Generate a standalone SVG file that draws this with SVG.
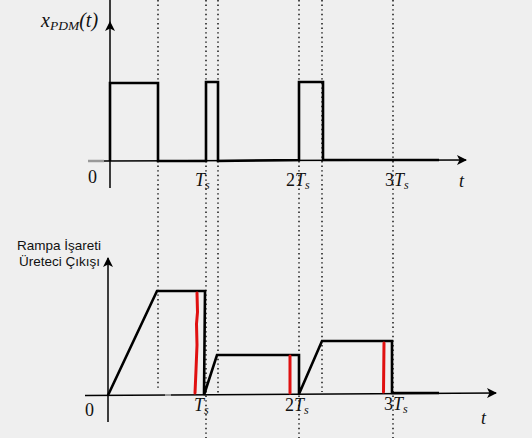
<svg xmlns="http://www.w3.org/2000/svg" width="532" height="438" viewBox="0 0 532 438">
<defs>
<marker id="ah" viewBox="0 0 10 10" refX="9" refY="5" markerWidth="10" markerHeight="10" markerUnits="userSpaceOnUse" orient="auto">
<path d="M0,0 L10,5 L0,10 L2.5,5 Z" fill="#000"/>
</marker>
</defs>
<style>
.bg{fill:#efefef}
.ax{stroke:#000;stroke-width:1.5;fill:none}
.sig{stroke:#000;stroke-width:2.6;fill:none;stroke-linejoin:miter}
.dot{stroke:#222;stroke-width:1.6;stroke-dasharray:1.4 3.2;fill:none}
.red{stroke:#e01010;stroke-width:3;fill:none;stroke-linecap:round}
.m{font-family:"Liberation Serif","DejaVu Serif",serif;font-style:italic;font-size:18px;fill:#111}
.n{font-family:"Liberation Serif","DejaVu Serif",serif;font-size:18px;fill:#111}
.sub{font-family:"Liberation Serif","DejaVu Serif",serif;font-style:italic;font-size:12px;fill:#111}
.lbl{font-family:"Liberation Sans",Arial,sans-serif;font-size:13.5px;fill:#111}
.big{font-size:20px}
.bsub{font-size:13.5px}
</style>
<rect class="bg" x="0" y="0" width="532" height="438"/>
<g id="grid">
<line class="dot" x1="158" y1="0" x2="158" y2="391"/>
<line class="dot" x1="206" y1="0" x2="206" y2="438"/>
<line class="dot" x1="218" y1="0" x2="218" y2="393"/>
<line class="dot" x1="299" y1="0" x2="299" y2="438"/>
<line class="dot" x1="322" y1="0" x2="322" y2="392"/>
<line class="dot" x1="393" y1="0" x2="393" y2="438"/>
</g>
<g id="top-axes">
<line class="ax" x1="110" y1="0" x2="110" y2="22"/>
<line class="ax" x1="110" y1="188" x2="110" y2="22" marker-end="url(#ah)"/>
<line x1="88" y1="161" x2="104" y2="161" stroke="#999" stroke-width="2.5"/>
<line class="ax" x1="104" y1="161" x2="466" y2="160" marker-end="url(#ah)"/>
</g>
<g id="top-signal">
<path class="sig" d="M110,161 L110,83 L158,83 L158,161 L206,161 L206,82 L218,82 L218,161 L299,160 L299,82 L323,82 L323,160 L439,160"/>
</g>
<g id="top-labels">
<text class="m big" x="41" y="27">x<tspan class="sub bsub" dy="3">PDM</tspan><tspan class="n big" dy="-3">(</tspan><tspan class="m big">t</tspan><tspan class="n big">)</tspan></text>
<text class="n" x="88" y="183">0</text>
<text class="m" x="195" y="186">T<tspan class="sub" dy="3">s</tspan></text>
<text class="n" x="286" y="186">2<tspan class="m">T</tspan><tspan class="sub" dy="3">s</tspan></text>
<text class="n" x="385" y="186">3<tspan class="m">T</tspan><tspan class="sub" dy="3">s</tspan></text>
<text class="m" x="459" y="187">t</text>
</g>
<g id="bottom-axes">
<line class="ax" x1="108" y1="422" x2="108" y2="258" marker-end="url(#ah)"/>
<line class="ax" x1="85" y1="395.5" x2="496" y2="393" marker-end="url(#ah)"/>
<line x1="165" y1="395" x2="171" y2="395" stroke="#bbb" stroke-width="1.5"/>
</g>
<g id="bottom-signal">
<path class="sig" d="M108,395.3 L157,291 L205,291 L204,395 L217,355 L299,355 L299,394 L322,341 L392,341 L392,393 L439,393"/>
</g>
<g id="red-marks">
<path class="red" d="M197,293 L197.5,312 L196.5,324 L197,345 L196,370 L195,393"/>
<line class="red" x1="290" y1="356" x2="290" y2="393"/>
<line class="red" x1="384" y1="343" x2="383.5" y2="392"/>
</g>
<g id="bottom-labels">
<text class="lbl" x="17" y="250">Rampa İşareti</text>
<text class="lbl" x="19" y="266">Üreteci Çıkışı</text>
<text class="n" x="85" y="416">0</text>
<text class="m" x="194" y="411">T<tspan class="sub" dy="3">s</tspan></text>
<text class="n" x="285" y="411">2<tspan class="m">T</tspan><tspan class="sub" dy="3">s</tspan></text>
<text class="n" x="384" y="410">3<tspan class="m">T</tspan><tspan class="sub" dy="3">s</tspan></text>
<text class="m" x="481" y="424">t</text>
</g>
</svg>
